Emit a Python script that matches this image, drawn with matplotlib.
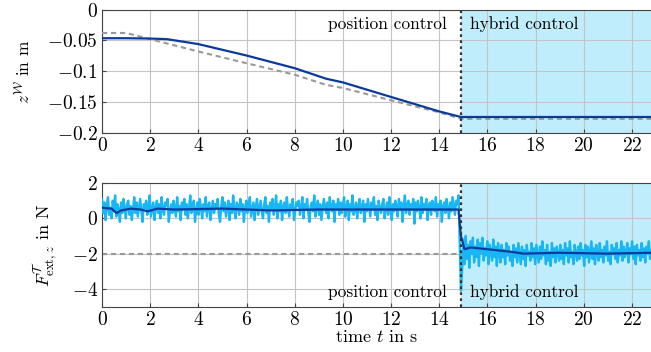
# position / force plot, two stacked axes
import numpy as np
import matplotlib.pyplot as plt

plt.rcParams['font.family'] = 'serif'
plt.rcParams['font.serif'] = ['cmr10', 'DejaVu Serif']
plt.rcParams['mathtext.fontset'] = 'cm'
plt.rcParams['axes.formatter.use_mathtext'] = True
plt.rcParams['font.size'] = 14

t_switch = 14.9
t_end = 22.79

# z position (m)
t_z = [0, 1, 2, 2.7, 4, 6, 8, 9.3, 10, 12, 14, 14.9, 22.8]
z_meas = [-0.0465, -0.0465, -0.047, -0.048, -0.056, -0.0745, -0.095, -0.112, -0.118, -0.1416, -0.165, -0.174, -0.174]
t_zref = [0, 1, 2, 4, 6, 8, 9.3, 10, 12, 14, 14.9, 22.8]
z_ref = [-0.038, -0.038, -0.048, -0.068, -0.087, -0.1056, -0.122, -0.127, -0.147, -0.1665, -0.177, -0.177]

# raw force before the switch (N)
f_pre = [1.1, 0.3, 0.9, -0.1, 0.7, 1.2, 0.2, 0.6, 0.0, 1.0, 0.4, 1.3, 0.1, 0.8, 0.5, -0.2, 0.9, 0.3, 1.1, 0.6,
         0.0, 0.8, 1.0, 0.2, 0.7, -0.1, 0.5, 1.2, 0.3, 0.9, 0.1, 0.6, 1.1, 0.4, -0.2, 0.8, 0.6, 1.0, 0.2, 0.7,
         1.3, 0.1, 0.5, 0.9, -0.1, 0.6, 1.0, 0.3, 0.8, 0.0, 1.2, 0.5, 0.2, 0.9, 0.7, 1.1, -0.2, 0.4, 0.8, 0.3,
         1.0, 0.6, 0.1, 1.2, 0.4, 0.7, -0.1, 0.9, 0.5, 1.1, 0.2, 0.8, 0.0, 0.6, 1.3, 0.3, 0.7, 1.0, -0.2, 0.5,
         0.9, 0.2, 1.1, 0.6, 0.0, 0.8, 0.4, 1.2, 0.1, 0.7, 0.9, -0.1, 0.5, 1.0, 0.3, 0.8, 0.6, 1.1, 0.2, -0.2,
         0.7, 1.2, 0.4, 0.9, 0.1, 0.6, 1.0, -0.1, 0.8, 0.3, 1.3, 0.5, 0.0, 0.9, 0.7, 0.2, 1.1, 0.4, 0.8, -0.2,
         0.6, 1.0, 0.3, 0.8, 1.2, 0.1, 0.5, 0.9, -0.1, 0.7, 1.1, 0.2, 0.6, 1.0, 0.4, 0.0, 0.8, 1.2, 0.3, 0.7,
         -0.2, 0.9, 0.5, 1.1, 0.2, 0.6, 1.3, 0.0, 0.8, 0.4, 1.0, -0.1, 0.7, 0.9, 0.3, 1.2, 0.5, 0.1, 0.8, 0.6,
         1.1, -0.1, 0.4, 0.9, 0.7, 1.0, 0.2, 0.6, 1.2, 0.0, 0.8, 0.5, 1.1, 0.3, -0.2, 0.7, 0.9, 0.4, 1.3, 0.1,
         0.6, 1.0, 0.2, 0.8, -0.1, 0.5, 1.1, 0.7, 0.3, 0.9, 0.0, 1.2, 0.6, 0.4, 1.0, -0.2, 0.8, 0.5, 1.1, 0.2,
         0.9, 0.3, 0.7, 1.2, 0.1, 0.6, 1.0, -0.1, 0.8, 0.4, 1.3, 0.2, 0.5, 0.9, 0.0, 0.7, 1.1, 0.3, 0.6, 1.0,
         -0.2, 0.8, 0.4, 1.1, 0.6, 0.1, 0.9, 0.5, 1.2, 0.2, 0.7, -0.1, 1.0, 0.6, 0.3, 0.8, 1.1, 0.0, 0.5, 0.9,
         0.2, 1.2, 0.6, -0.1, 0.8, 0.4, 1.0, 0.7, 0.1, 1.1, 0.5, 0.9, -0.2, 0.6, 1.3, 0.3, 0.7, 1.0, 0.2, 0.8,
         0.5, 1.1, -0.3, 0.9, 0.4, 1.0, 0.6, 0.0, 1.2, 0.3, 0.8, 0.5, 1.1, -0.1, 0.7, 0.9, 0.2, 1.0, 0.6, 0.4,
         1.2, 0.1, 0.8, 0.5, 1.0, -0.2, 0.7, 0.9, 0.3, 1.1, 0.6, 0.0, 0.9, 0.4, 1.2, 0.7, 0.2, 1.0, 0.8, 1.3]
# raw force after the switch (N)
f_post = [-4.1, -2.9, -1.2, -2.6, -1.0, -2.3, -1.5, -2.8, -1.3, -2.0, -1.1, -2.5, -1.6, -2.2, -1.2, -2.7, -1.4, -1.9, -1.1, -2.4,
          -1.7, -2.1, -1.3, -2.6, -1.5, -1.9, -2.4, -1.2, -2.2, -1.6, -2.7, -1.4, -2.0, -2.5, -1.5, -2.2, -1.8, -2.6, -1.4, -2.1,
          -1.6, -2.4, -1.9, -2.7, -1.5, -2.2, -1.7, -2.5, -1.4, -2.0, -2.6, -1.6, -2.3, -1.8, -2.7, -1.5, -2.1, -1.9, -2.4, -1.4,
          -2.2, -1.7, -2.6, -1.5, -2.0, -2.5, -1.6, -2.3, -1.3, -2.1, -1.8, -2.6, -1.5, -2.4, -1.9, -2.7, -1.4, -2.2, -1.7, -2.5,
          -1.6, -2.0, -2.4, -1.5, -2.3, -1.8, -2.6, -1.4, -2.1, -1.7, -2.5, -1.3, -2.2, -1.9, -2.6, -1.5, -2.0, -2.4, -1.6, -2.3,
          -1.4, -2.1, -1.8, -2.7, -1.5, -2.2, -1.6, -2.5, -1.9, -1.3, -2.3, -1.7, -2.6, -1.5, -2.0, -2.4, -1.4, -2.2, -1.8, -2.5,
          -1.6, -2.1, -1.3, -2.4, -1.9, -2.6, -1.5, -2.0, -1.7, -2.3, -1.4, -2.5, -1.8, -2.1, -1.3, -2.4, -1.6, -2.2, -1.9, -1.4,
          -2.5, -1.7, -2.0, -1.3, -2.3, -1.6, -2.6, -1.5, -2.1, -1.8, -2.4, -1.4, -2.2, -1.7, -2.5, -1.6, -2.0, -1.3, -2.3, -1.8]

# filtered force
t_ff = [0, 0.4, 0.6, 0.8, 1.2, 1.6, 1.9, 2.3, 3, 5, 7, 9, 11, 13, 14.8, 14.9, 15.05, 15.3, 16, 17, 17.5, 19, 21, 22.8]
f_filt = [0.6, 0.55, 0.3, 0.45, 0.55, 0.5, 0.4, 0.55, 0.5, 0.55, 0.45, 0.5, 0.5, 0.5, 0.5, -1.0, -1.75, -1.65, -1.75, -1.9, -2.0, -1.95, -2.0, -1.95]
f_des = -2.0

t_pre = np.linspace(0, 14.8, len(f_pre))
t_post = np.linspace(t_switch, 22.8, len(f_post))
t_f = np.concatenate([t_pre, t_post])
f_raw = np.concatenate([f_pre, f_post])

dark = '#0a3a9c'
light = '#18b6f4'
shade = '#bfedfb'
gray = '#999999'

fig = plt.figure(figsize=(6.51, 3.52), dpi=100)
ax1 = fig.add_axes([0.1567, 0.622, 0.8433, 0.351])
ax2 = fig.add_axes([0.1567, 0.129, 0.8433, 0.351])

for ax in (ax1, ax2):
    ax.axvspan(t_switch, 30, color=shade, zorder=0, lw=0)
    ax.axvline(t_switch, color='#333333', ls=(0, (1.2, 1.5)), lw=1.6, zorder=5)
    ax.set_xlim(0, t_end)
    ax.set_xticks(np.arange(0, 23, 2))
    ax.grid(True, color='#c4c4c4', lw=0.8)
    ax.set_axisbelow(True)
    ax.spines['right'].set_visible(False)
    for s in ('left', 'bottom', 'top'):
        ax.spines[s].set_color('#444444')
    ax.tick_params(direction='in', length=3, color='#444444', pad=3)

ax1.plot(t_zref, z_ref, color=gray, ls=(0, (2.5, 1.8)), lw=1.5, zorder=3)
ax1.plot(t_z, z_meas, color=dark, lw=1.6, zorder=4)
ax1.set_ylim(-0.2, 0)
ax1.set_yticks([-0.2, -0.15, -0.1, -0.05, 0])
ax1.set_yticklabels(['$-0.2$', '$-0.15$', '$-0.1$', '$-0.05$', '$0$'])
ax1.set_ylabel(r'$z^{\mathcal{W}}$ in m', fontsize=12.5, labelpad=10)
ax1.text(14.3, -0.0234, 'position control', ha='right', va='center', fontsize=12.5)
ax1.text(15.28, -0.0234, 'hybrid control', ha='left', va='center', fontsize=12.5)

ax2.axhline(f_des, color=gray, ls=(0, (2.5, 1.8)), lw=1.5, zorder=2)
ax2.plot(t_f, f_raw, color=light, lw=1.7, zorder=3)
ax2.plot(t_ff, f_filt, color=dark, lw=1.6, zorder=4)
ax2.set_ylim(-5, 2)
ax2.set_yticks([-4, -2, 0, 2])
ax2.set_ylabel(r'$F^{\mathcal{T}}_{\mathrm{ext},z}$ in N', fontsize=13, labelpad=9)
ax2.set_xlabel('time $t$ in s', labelpad=0, fontsize=13)
ax2.text(14.3, -4.2, 'position control', ha='right', va='center', fontsize=12.5)
ax2.text(15.28, -4.2, 'hybrid control', ha='left', va='center', fontsize=12.5)

fig.savefig('out.png', dpi=100)
